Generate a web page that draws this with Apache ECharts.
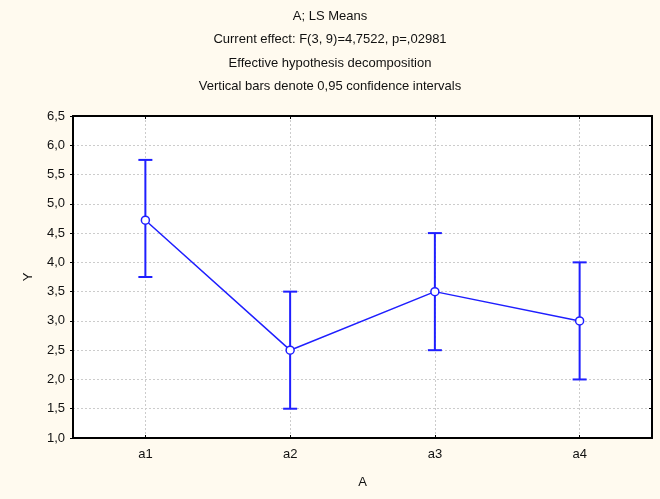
<!DOCTYPE html>
<html>
<head>
<meta charset="utf-8">
<script src="https://cdn.jsdelivr.net/npm/echarts@6/dist/echarts.min.js"></script>
<style>
  html, body { margin: 0; padding: 0; background: #ffffff; }
  #chart { width: 660px; height: 499px; }
</style>
</head>
<body>
<div id="chart"></div>
<script>
// Factor levels and least-squares means with 95% confidence limits
const categories = ['a1', 'a2', 'a3', 'a4'];
const means = [4.72, 2.5, 3.5, 3.0];
const lower = [3.75, 1.5, 2.5, 2.0];
const upper = [5.75, 3.5, 4.5, 4.0];
const yTicks = [1.0, 1.5, 2.0, 2.5, 3.0, 3.5, 4.0, 4.5, 5.0, 5.5, 6.0, 6.5];
const titleLines = [
  'A; LS Means',
  'Current effect: F(3, 9)=4,7522, p=,02981',
  'Effective hypothesis decomposition',
  'Vertical bars denote 0,95 confidence intervals'
];

const FONT = '"Liberation Sans", Arial, sans-serif';
const FS = 13;
const BLUE = '#1f1fff';
const fmt = v => v.toFixed(1).replace('.', ',');

// Half-step slots so that the top axis can put its ticks and vertical
// grid lines exactly at the category centres.
const halfSlots = [''];
categories.forEach(c => { halfSlots.push(c, ''); });
const atCentre = i => i % 2 === 1;

const chart = echarts.init(document.getElementById('chart'), null, { renderer: 'canvas' });

const errorData = categories.map((c, i) => [i, lower[i], upper[i]]);

chart.setOption({
  backgroundColor: '#fffaef',
  animation: false,
  textStyle: { fontFamily: FONT },
  title: titleLines.map((t, i) => ({
    text: t,
    left: 'center',
    top: 5 + i * 23.3,
    textStyle: { fontFamily: FONT, fontSize: FS, fontWeight: 'normal', color: '#111' }
  })),
  grid: {
    left: 73, right: 8, top: 116, bottom: 61,
    show: true, backgroundColor: '#ffffff', borderColor: '#000', borderWidth: 1.5
  },
  xAxis: [{
    type: 'category',
    data: categories,
    boundaryGap: true,
    position: 'bottom',
    name: 'A',
    nameLocation: 'middle',
    nameGap: 38,
    nameTextStyle: { fontFamily: FONT, fontSize: FS, color: '#111' },
    axisLine: { show: true, lineStyle: { color: '#000', width: 2 } },
    axisTick: { show: true, inside: true, alignWithLabel: true, length: 3, lineStyle: { color: '#000' } },
    axisLabel: { fontFamily: FONT, fontSize: FS, color: '#111', margin: 10 },
    splitLine: { show: false }
  }, {
    type: 'category',
    data: halfSlots,
    boundaryGap: false,
    position: 'top',
    axisLine: { show: true, lineStyle: { color: '#000', width: 2 } },
    axisTick: { show: true, inside: true, interval: (i) => atCentre(i), length: 3, lineStyle: { color: '#000' } },
    axisLabel: { show: false },
    splitLine: { show: true, interval: (i) => atCentre(i), lineStyle: { color: '#cccccc', type: [2, 2], width: 1 } }
  }],
  yAxis: [{
    type: 'value',
    min: yTicks[0], max: yTicks[yTicks.length - 1], interval: 0.5,
    position: 'left',
    name: 'Y',
    nameLocation: 'middle',
    nameGap: 38,
    nameRotate: 90,
    nameTextStyle: { fontFamily: FONT, fontSize: FS, color: '#111' },
    axisLine: { show: true, lineStyle: { color: '#000', width: 2 } },
    axisTick: { show: true, inside: false, length: 3, lineStyle: { color: '#000' } },
    axisLabel: { fontFamily: FONT, fontSize: FS, color: '#111', margin: 8, formatter: fmt },
    splitLine: { show: true, lineStyle: { color: '#cccccc', type: [2, 2], width: 1 } }
  }, {
    type: 'value',
    min: yTicks[0], max: yTicks[yTicks.length - 1], interval: 0.5,
    position: 'right',
    axisLine: { show: true, lineStyle: { color: '#000', width: 2 } },
    axisTick: { show: true, inside: true, length: 3, lineStyle: { color: '#000' } },
    axisLabel: { show: false },
    splitLine: { show: false }
  }],
  series: [{
    // confidence-interval whiskers with caps
    type: 'custom',
    xAxisIndex: 0, yAxisIndex: 0,
    data: errorData,
    z: 3,
    renderItem: function (params, api) {
      const x = api.value(0);
      const lo = api.coord([x, api.value(1)]);
      const hi = api.coord([x, api.value(2)]);
      const half = 7;
      const style = { stroke: BLUE, lineWidth: 2 };
      return {
        type: 'group',
        children: [
          { type: 'line', shape: { x1: lo[0], y1: lo[1], x2: hi[0], y2: hi[1] }, style },
          { type: 'line', shape: { x1: hi[0] - half, y1: hi[1], x2: hi[0] + half, y2: hi[1] }, style },
          { type: 'line', shape: { x1: lo[0] - half, y1: lo[1], x2: lo[0] + half, y2: lo[1] }, style }
        ]
      };
    }
  }, {
    type: 'line',
    xAxisIndex: 0, yAxisIndex: 0,
    data: means,
    z: 4,
    symbol: 'circle',
    symbolSize: 8,
    lineStyle: { color: BLUE, width: 1.5 },
    itemStyle: { color: '#ffffff', borderColor: BLUE, borderWidth: 1.5 }
  }]
});
</script>
</body>
</html>
